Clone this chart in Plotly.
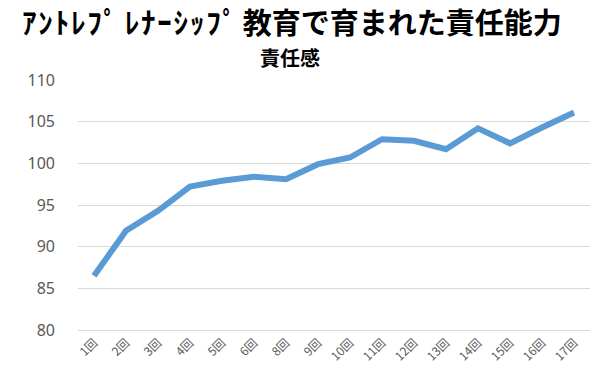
import plotly.graph_objects as go

categories = ["1回", "2回", "3回", "4回", "5回", "6回", "8回", "9回", "10回",
              "11回", "12回", "13回", "14回", "15回", "16回", "17回"]
values = [86.5, 91.9, 94.3, 97.2, 97.9, 98.4, 98.1, 99.9, 100.7,
          102.9, 102.7, 101.7, 104.2, 102.4, 104.3, 106.1]
y_ticks = [80, 85, 90, 95, 100, 105, 110]

kata = "\u200a".join("ｱﾝﾄﾚﾌﾟ") + " " + "\u200a".join("ﾚﾅｰｼｯﾌﾟ") + "\u2009"
title_text = "<b>" + kata + "教育で育まれた責任能力</b>"

fig = go.Figure()
fig.add_trace(go.Scatter(
    x=categories, y=values, mode="lines",
    line=dict(color="#5B9BD5", width=6),
    hoverinfo="skip",
))

fig.update_layout(
    width=595, height=379,
    margin=dict(l=78, r=5, t=80, b=49),
    paper_bgcolor="white", plot_bgcolor="white",
    showlegend=False,
    font=dict(family="Noto Sans CJK JP", color="#595959"),
    annotations=[
        dict(text=title_text,
             xref="paper", yref="paper", x=-0.113, y=1.236, xanchor="left", yanchor="middle",
             showarrow=False,
             font=dict(size=29, color="black", family="Noto Sans CJK JP")),
        dict(text="<b>責任感</b>",
             xref="paper", yref="paper", x=0.414, y=1.09, xanchor="center", yanchor="middle",
             showarrow=False,
             font=dict(size=20, color="black", family="Noto Sans CJK JP")),
    ],
)
fig.update_xaxes(
    type="category", tickangle=-45, range=[-0.5, 15.5],
    tickfont=dict(size=12, color="#595959", family="Noto Sans CJK JP"),
    showgrid=False, showline=True, linecolor="#d9d9d9", linewidth=1,
    ticks="", ticklen=0,
)
fig.update_yaxes(
    range=[80, 110], tickvals=y_ticks,
    tickfont=dict(size=16, color="#595959", family="Noto Sans"),
    showgrid=True, gridcolor="#d9d9d9", gridwidth=1,
    zeroline=False, showline=False, ticks="", ticklabelstandoff=22,
)

fig.write_html("out.html")
